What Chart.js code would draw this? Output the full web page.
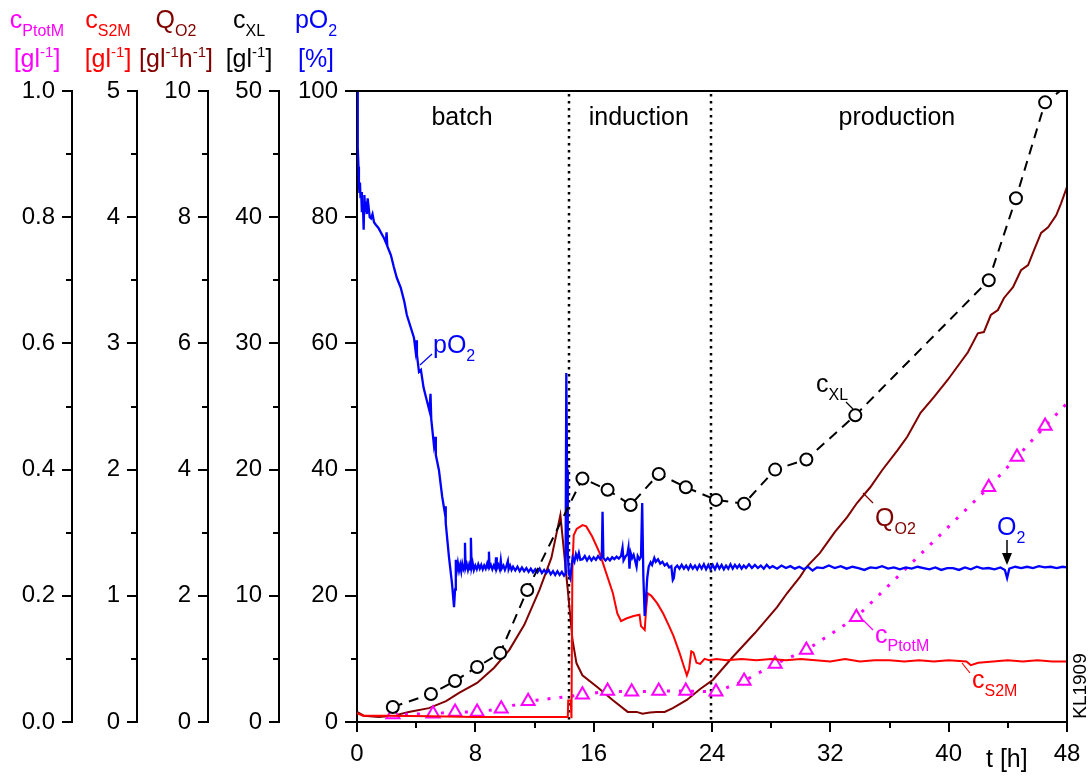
<!DOCTYPE html>
<html>
<head>
<meta charset="utf-8">
<script src="https://cdn.jsdelivr.net/npm/chart.js@4.4.1/dist/chart.umd.min.js"></script>
<style>
  html, body { margin: 0; padding: 0; background: #fff; }
  canvas { display: block; }
</style>
</head>
<body>
<canvas id="myChart" width="1090" height="776"></canvas>
<script>
// sampling times [h] and values
const timeXL = [2.42, 5.0, 6.63, 8.12, 9.68, 11.51, 15.24, 16.94, 18.5, 20.4, 22.23, 24.27, 26.17, 28.27, 30.38, 33.69, 42.71, 44.55, 46.52, 48.2];
const cXL = [1.19, 2.22, 3.25, 4.36, 5.47, 10.46, 19.3, 18.4, 17.2, 19.65, 18.6, 17.6, 17.3, 20.0, 20.8, 24.3, 35.0, 41.5, 49.1, 50.6];

const timePtot = [2.43, 5.14, 6.63, 8.12, 9.75, 11.57, 15.24, 16.94, 18.57, 20.4, 22.23, 24.27, 26.17, 28.27, 30.38, 33.76, 42.71, 44.62, 46.52, 48.2];
const cPtotM = [0.012, 0.013, 0.016, 0.016, 0.021, 0.033, 0.043, 0.049, 0.048, 0.049, 0.049, 0.048, 0.065, 0.092, 0.114, 0.166, 0.372, 0.42, 0.469, 0.51];

const QO2 = [[0,0.16],[0.45,0.1],[1.47,0.08],[2.49,0.1],[3.5,0.16],[4.86,0.22],[6.02,0.33],[6.9,0.46],[8.12,0.62],[9.27,0.86],
  [10.29,1.14],[11.31,1.54],[12.33,2.09],[13.14,2.6],[13.75,3.28],[14.23,2.14],[14.57,1.3],[14.84,0.93],[15.24,0.74],[16.26,0.55],
  [17.28,0.35],[18.3,0.16],[18.9,0.16],[19.3,0.13],[19.8,0.15],[20.26,0.16],[20.8,0.16],[21.35,0.22],[22.3,0.35],[23.18,0.52],
  [24.07,0.67],[25.4,1.03],[26.9,1.41],[28.4,1.82],[29.07,2.04],[29.95,2.3],[30.4,2.46],[31.3,2.68],[32.3,3.01],[33.15,3.25],
  [33.8,3.47],[34.7,3.72],[35.5,3.99],[36.55,4.31],[37.2,4.52],[38.1,4.9],[39.0,5.15],[39.93,5.42],[41.3,5.86],[41.97,6.16],
  [42.38,6.18],[42.85,6.45],[43.33,6.53],[43.74,6.72],[44.35,6.89],[44.89,7.16],[45.37,7.24],[45.77,7.48],[46.25,7.75],[46.72,7.84],
  [47.27,8.03],[47.6,8.22],[48.0,8.48]];

const cS2M = [[0,0.07],[0.4,0.05],[2,0.05],[5,0.045],[8,0.04],[11,0.04],[14.25,0.04],[14.28,0.17],[14.45,0.17],[14.5,0.03],
  [14.56,1.2],[14.65,1.48],[14.85,1.53],[15.25,1.56],[15.5,1.55],[15.9,1.47],[16.4,1.34],[16.85,1.18],[17.3,1.02],[17.6,0.86],
  [17.85,0.8],[18.2,0.82],[18.7,0.84],[19.1,0.85],[19.2,0.76],[19.45,0.73],[19.55,0.9],[19.65,1.02],[19.9,1.0],[20.3,0.94],
  [20.7,0.86],[21.1,0.76],[21.4,0.68],[21.8,0.55],[22.1,0.44],[22.3,0.37],[22.45,0.42],[22.6,0.56],[22.75,0.55],[22.95,0.47],
  [23.2,0.46],[23.5,0.5],[23.8,0.49],[24.3,0.5],[25,0.49],[26,0.5],[27,0.49],[28,0.5],[29,0.49],[30,0.5],[31,0.49],[32,0.48],
  [33,0.5],[34,0.48],[35,0.49],[36,0.49],[37,0.48],[38,0.49],[39,0.48],[40,0.49],[41.2,0.48],[41.5,0.45],[42,0.47],[43,0.48],
  [44,0.49],[45,0.48],[46,0.49],[47,0.48],[48,0.48]];

const pO2 = [[0,100],[0.04,96],[0.06,91],[0.1,88],[0.13,85],[0.16,84],[0.2,85.5],[0.24,83],[0.28,84],[0.33,80.8],[0.4,82],[0.45,78],
  [0.5,83.5],[0.55,81],[0.6,82.5],[0.66,80.5],[0.72,83],[0.79,81.5],[0.86,80],[0.95,79.8],[1.05,80.5],[1.15,79.2],[1.27,78.8],
  [1.45,78.3],[1.61,77.6],[1.8,76.8],[1.95,76],[2.0,77.6],[2.05,75.4],[2.29,74],[2.49,72.1],[2.69,70.4],[2.96,68.8],[3.2,66.6],
  [3.37,64.5],[3.65,62.4],[3.85,60.9],[3.95,59],[4.0,60.5],[4.05,58.2],[4.19,55.5],[4.32,55.8],[4.5,53],[4.66,51.5],[4.9,49.3],
  [4.97,52],[5.02,48],[5.2,43.9],[5.28,45.2],[5.33,42.3],[5.54,39.9],[5.76,35.7],[5.92,33.4],[5.96,34.2],[6.0,31.5],[6.22,26.1],
  [6.42,22],[6.56,18.2],[6.63,21],[6.68,25.7],
  [6.75,24.1],[6.82,25.2],[6.9,24],[6.98,24.9],[7.05,23.9],[7.12,25.1],[7.2,24.3],[7.26,24.8],[7.3,28.4],[7.34,24.4],[7.42,25],
  [7.5,24.1],[7.58,24.9],[7.65,24.2],[7.7,29.2],[7.75,24.5],[7.82,25.2],[7.9,24.1],[8.0,24.8],[8.1,24.2],[8.2,25],[8.3,24.3],
  [8.4,24.9],[8.5,24.2],[8.6,24.8],[8.7,24.3],[8.8,25.1],[8.88,24.4],[8.92,27],[8.96,24.5],[9.05,24.9],[9.15,24.2],[9.25,24.8],
  [9.35,24.3],[9.4,26.1],[9.45,24.3],[9.55,24.9],[9.65,24.2],[9.72,25.6],[9.78,24.3],[9.9,24.8],[10.0,24.1],[10.1,24.7],
  [10.2,25.5],[10.25,24.2],[10.35,24.8],[10.45,24.1],[10.55,24.6],[10.7,24],[10.85,24.6],[11.0,23.9],[11.15,24.5],[11.3,23.9],
  [11.45,24.4],[11.6,23.8],[11.75,24.3],[11.9,23.7],[12.05,24.2],[12.2,23.7],[12.35,24.3],[12.5,23.6],[12.65,24.1],[12.8,23.6],
  [12.95,24.1],[13.1,23.4],[13.25,23.9],[13.4,23.3],[13.55,23.9],[13.7,23.3],[13.85,23.8],[14.0,23.2],[14.1,23.5],
  [14.15,55.3],[14.2,40],[14.25,27],[14.32,23.5],[14.42,22.8],[14.5,24.5],[14.58,26.1],[14.7,25.4],[14.8,26.6],[14.9,25.9],
  [15.0,26.8],[15.1,25.7],[15.25,25.8],[15.4,26.3],[15.55,25.6],[15.7,26.2],[15.85,25.6],[16.0,26.1],[16.15,25.7],[16.3,26.3],
  [16.45,25.8],[16.55,26.2],[16.6,33.3],[16.66,26],[16.8,25.6],[16.95,26],[17.1,25.6],[17.25,26.1],[17.4,25.8],[17.55,26.2],
  [17.7,25.9],[17.85,26.3],[17.95,27.6],[18.02,25.6],[18.15,26.2],[18.28,26.6],[18.35,27.6],[18.42,24.3],[18.5,26.8],[18.6,26],
  [18.7,26.5],[18.8,25.6],[18.9,24.6],[18.98,26.3],[19.1,25.8],[19.2,26.2],[19.28,34.7],[19.36,23],[19.45,16.8],[19.55,20],
  [19.62,22.8],[19.72,24.6],[19.85,25.3],[19.95,24.9],[20.1,26],[20.2,25.4],[20.35,25.8],[20.5,25.1],[20.65,25.4],[20.8,24.8],
  [20.95,25.1],[21.1,24.5],[21.25,24.7],[21.35,22.5],[21.42,22.8],[21.5,24.4],[21.65,24.8],[21.8,24.3],[21.95,24.9],[22.1,24.3],
  [22.25,24.8],[22.4,24.2],[22.55,24.9],[22.7,24.3],[22.85,24.8],[23.0,24.2],[23.15,24.9],[23.3,24.3],[23.45,25],[23.6,24.2],
  [23.75,24.9],[23.9,24.2],
  [24.05,24.9],[24.2,24.2],[24.35,25],[24.5,24.3],[24.65,24.9],[24.8,24.2],[24.95,24.8],[25.1,24.3],[25.25,25],[25.4,24.3],
  [25.55,24.9],[25.7,24.4],[25.85,24.9],[26.0,24.3],[26.15,24.8],[26.3,24.4],[26.5,25],[26.7,24.4],[26.9,24.9],[27.1,24.4],
  [27.3,24.8],[27.5,24.3],[27.7,24.9],[27.9,24.4],[28.1,24.7],[28.4,24.3],[28.7,24.8],[29.0,24.4],[29.3,24.7],[29.6,24.3],
  [29.9,24.6],[30.2,24.2],[30.5,24.6],[30.8,24.0],[31.1,24.5],[31.5,24.4],[31.9,24.8],[32.3,24.4],[32.7,24.7],[33.1,24.3],
  [33.5,24.6],[33.9,24.4],[34.3,24.1],[34.7,24.5],[35.1,24.4],[35.5,24.7],[35.9,24.3],[36.3,24.5],[36.7,24.2],[37.1,24.5],
  [37.5,24.3],[37.9,24.6],[38.3,24.4],[38.7,24.2],[39.1,24.5],[39.5,24.1],[39.9,24.4],[40.3,24.4],[40.7,24.1],[41.1,24.5],
  [41.5,24.2],[41.9,24.6],[42.3,24.3],[42.7,24.4],[43.1,24.2],[43.5,24.5],[43.8,24.1],[43.95,22.8],[44.1,24.3],[44.5,24.6],
  [44.9,24.4],[45.3,24.6],[45.7,24.4],[46.1,24.7],[46.5,24.5],[46.9,24.6],[47.3,24.4],[47.7,24.6],[48,24.5]];

// phase boundaries [h] and phase names
const phaseBounds = [14.3, 23.9];
const phaseNames = ['batch', 'induction', 'production'];

const FONT = "'Liberation Sans', Arial, sans-serif";
const MAGENTA = '#ff00ff', RED = '#ff0000', BROWN = '#800000', BLUE = '#0000ff';

const xy = (ts, vs) => ts.map((t, i) => ({ x: t, y: vs[i] }));
const pts = arr => arr.map(p => ({ x: p[0], y: p[1] }));

function leftAxis(min, max, step, weight, width, tickLen, fmt) {
    return {
        type: 'linear', position: 'left', min: min, max: max, weight: weight,
        ticks: { stepSize: step, color: '#000', font: { family: FONT, size: 24 }, padding: 7, callback: fmt },
        grid: { drawOnChartArea: false, drawTicks: true, tickLength: tickLen, color: '#000', lineWidth: 2 },
        border: { display: true, color: '#000', width: 2 },
        afterFit: s => { s.width = width; }
    };
}

function rich(ctx, parts, x, y, align, color) {
    const sizes = { n: 25, sub: 16, sup: 15 };
    const dy = { n: 0, sub: 8, sup: -10 };
    let w = 0;
    parts.forEach(([s, k]) => { ctx.font = sizes[k] + 'px ' + FONT; w += ctx.measureText(s).width; });
    let cx = align === 'center' ? x - w / 2 : x;
    ctx.fillStyle = color;
    ctx.textAlign = 'left';
    ctx.textBaseline = 'alphabetic';
    parts.forEach(([s, k]) => {
        ctx.font = sizes[k] + 'px ' + FONT;
        ctx.fillText(s, cx, y + dy[k]);
        cx += ctx.measureText(s).width;
    });
}

function seg(ctx, x1, y1, x2, y2, color) {
    ctx.strokeStyle = color;
    ctx.lineWidth = 1.2;
    ctx.beginPath(); ctx.moveTo(x1, y1); ctx.lineTo(x2, y2); ctx.stroke();
}

const gl = [['[gl', 'n'], ['-1', 'sup'], [']', 'n']];
const headers = [
    { axis: 'yPtot', off: 35, color: MAGENTA, title: [['c', 'n'], ['PtotM', 'sub']], unit: gl },
    { axis: 'yS2M', off: 29, color: RED, title: [['c', 'n'], ['S2M', 'sub']], unit: gl },
    { axis: 'yQO2', off: 32, color: BROWN, title: [['Q', 'n'], ['O2', 'sub']], unit: [['[gl', 'n'], ['-1', 'sup'], ['h', 'n'], ['-1', 'sup'], [']', 'n']] },
    { axis: 'yXL', off: 30, color: '#000', title: [['c', 'n'], ['XL', 'sub']], unit: gl },
    { axis: 'y', off: 41, color: BLUE, title: [['pO', 'n'], ['2', 'sub']], unit: [['[%]', 'n']] }
];

const minorTicks = [
    { axis: 'yPtot', step: 0.2 }, { axis: 'yS2M', step: 1 }, { axis: 'yQO2', step: 2 },
    { axis: 'yXL', step: 10 }, { axis: 'y', step: 20 }
];

const decor = {
    id: 'decor',
    beforeDatasetsDraw(chart) {
        const { ctx, chartArea: a, scales: { x } } = chart;
        ctx.save();
        ctx.strokeStyle = '#000';
        ctx.lineWidth = 2.5;
        ctx.setLineDash([2.5, 4.5]);
        phaseBounds.forEach(t => {
            const px = Math.round(x.getPixelForValue(t));
            ctx.beginPath(); ctx.moveTo(px, a.top + 3); ctx.lineTo(px, a.bottom); ctx.stroke();
        });
        ctx.restore();
    },
    afterDatasetsDraw(chart) {
        const { ctx, scales: { x } } = chart;
        ctx.save();
        // phase names
        ctx.font = '25px ' + FONT;
        ctx.fillStyle = '#000';
        ctx.textAlign = 'center';
        ctx.textBaseline = 'alphabetic';
        [7.1, 19.05, 36.5].forEach((t, i) => ctx.fillText(phaseNames[i], x.getPixelForValue(t), 125));

        // curve labels with leader lines
        seg(ctx, 420, 365, 432, 354, BLUE);
        rich(ctx, [['pO', 'n'], ['2', 'sub']], 433, 353, 'left', BLUE);
        seg(ctx, 846, 402, 853, 409, '#000');
        rich(ctx, [['c', 'n'], ['XL', 'sub']], 816, 392, 'left', '#000');
        seg(ctx, 863, 493, 873, 503, BROWN);
        rich(ctx, [['Q', 'n'], ['O2', 'sub']], 875, 526, 'left', BROWN);
        seg(ctx, 863, 620, 873, 630, MAGENTA);
        rich(ctx, [['c', 'n'], ['PtotM', 'sub']], 875, 643, 'left', MAGENTA);
        seg(ctx, 962, 663, 970, 673, RED);
        rich(ctx, [['c', 'n'], ['S2M', 'sub']], 972, 688, 'left', RED);
        rich(ctx, [['O', 'n'], ['2', 'sub']], 997, 535, 'left', BLUE);
        // arrow to the O2 dip
        ctx.strokeStyle = '#000'; ctx.lineWidth = 1.5;
        ctx.beginPath(); ctx.moveTo(1007, 540); ctx.lineTo(1007, 554); ctx.stroke();
        ctx.fillStyle = '#000';
        ctx.beginPath(); ctx.moveTo(1002, 553); ctx.lineTo(1012, 553); ctx.lineTo(1007, 565); ctx.closePath(); ctx.fill();
        ctx.restore();
    },
    afterDraw(chart) {
        const { ctx, chartArea: a, scales } = chart;
        ctx.save();
        // box top and right
        ctx.strokeStyle = '#000';
        ctx.lineWidth = 2;
        ctx.beginPath();
        ctx.moveTo(a.left, a.top); ctx.lineTo(a.right, a.top); ctx.lineTo(a.right, a.bottom);
        ctx.stroke();

        // minor ticks
        ctx.lineWidth = 2;
        minorTicks.forEach(m => {
            const s = scales[m.axis];
            for (let v = s.min + m.step / 2; v < s.max; v += m.step) {
                const py = Math.round(s.getPixelForValue(v));
                ctx.beginPath(); ctx.moveTo(s.right - 6, py); ctx.lineTo(s.right, py); ctx.stroke();
            }
        });
        for (let v = 4; v < 48; v += 8) {
            const px = Math.round(scales.x.getPixelForValue(v));
            ctx.beginPath(); ctx.moveTo(px, a.bottom); ctx.lineTo(px, a.bottom + 6); ctx.stroke();
        }

        // axis headers
        headers.forEach(h => {
            const cx = scales[h.axis].right - h.off;
            rich(ctx, h.title, cx, 28, 'center', h.color);
            rich(ctx, h.unit, cx, 67, 'center', h.color);
        });

        // x axis title
        ctx.fillStyle = '#000';
        ctx.font = '25px ' + FONT;
        ctx.textAlign = 'left';
        ctx.fillText('t [h]', 986, 767);

        // figure code
        ctx.translate(1081, 686);
        ctx.rotate(-Math.PI / 2);
        ctx.font = '19px ' + FONT;
        ctx.textAlign = 'center';
        ctx.textBaseline = 'middle';
        ctx.fillText('KL1909', 0, 0);
        ctx.restore();
    }
};

const ctx = document.getElementById('myChart').getContext('2d');
const myChart = new Chart(ctx, {
    type: 'line',
    data: {
        datasets: [
            {
                label: 'cXL', data: xy(timeXL, cXL), yAxisID: 'yXL',
                borderColor: '#000', borderWidth: 2, borderDash: [10, 7],
                pointStyle: 'circle', pointRadius: c => c.dataIndex === timeXL.length - 1 ? 0 : 6,
                pointBorderColor: '#000', pointBackgroundColor: '#fff', pointBorderWidth: 2
            },
            {
                label: 'pO2', data: pts(pO2), yAxisID: 'y',
                borderColor: BLUE, borderWidth: 2.3, pointRadius: 0
            },
            {
                label: 'cS2M', data: pts(cS2M), yAxisID: 'yS2M',
                borderColor: RED, borderWidth: 2, pointRadius: 0
            },
            {
                label: 'cPtotM', data: xy(timePtot, cPtotM), yAxisID: 'yPtot',
                borderColor: MAGENTA, borderWidth: 3, borderDash: [3, 9],
                pointStyle: 'triangle', pointRadius: c => c.dataIndex === timePtot.length - 1 ? 0 : 7.5,
                pointBorderColor: MAGENTA, pointBackgroundColor: '#fff', pointBorderWidth: 2
            },
            {
                label: 'QO2', data: pts(QO2), yAxisID: 'yQO2',
                borderColor: BROWN, borderWidth: 2, pointRadius: 0
            }
        ]
    },
    options: {
        responsive: false,
        animation: false,
        devicePixelRatio: 1,
        layout: { padding: { top: 91, right: 23, left: 0, bottom: 0 } },
        plugins: { legend: { display: false }, tooltip: { enabled: false } },
        elements: { line: { tension: 0 } },
        scales: {
            x: {
                type: 'linear', position: 'bottom', min: 0, max: 48,
                ticks: { stepSize: 8, color: '#000', font: { family: FONT, size: 24 }, padding: 8 },
                grid: { drawOnChartArea: false, drawTicks: true, tickLength: 10, color: '#000', lineWidth: 2 },
                border: { display: true, color: '#000', width: 2 },
                afterFit: s => { s.height = 54; }
            },
            yPtot: leftAxis(0, 1, 0.2, 5, 72, 10, v => v.toFixed(1)),
            yS2M: leftAxis(0, 5, 1, 4, 65, 10, v => v.toFixed(0)),
            yQO2: leftAxis(0, 10, 2, 3, 71, 10, v => v.toFixed(0)),
            yXL: leftAxis(0, 50, 10, 2, 71, 10, v => v.toFixed(0)),
            y: leftAxis(0, 100, 20, 1, 78, 12, v => v.toFixed(0))
        }
    },
    plugins: [decor]
});
</script>
</body>
</html>
